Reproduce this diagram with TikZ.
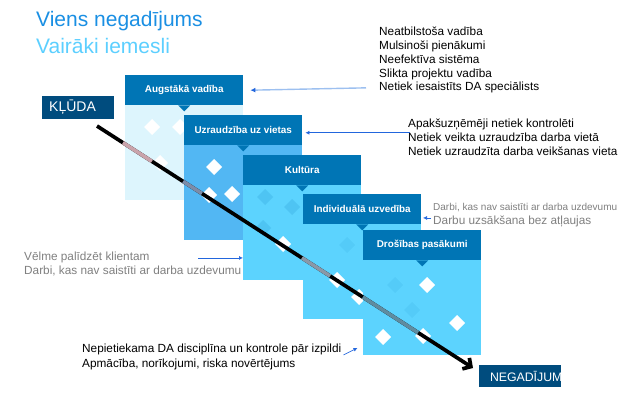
\documentclass[tikz,border=0pt]{standalone}
\usepackage{fontspec}
\setmainfont{Liberation Sans}
\usetikzlibrary{calc,arrows.meta}
\definecolor{headblue}{HTML}{0075B5}
\definecolor{navy}{HTML}{004C7E}
\definecolor{paleblue}{HTML}{DDF5FD}
\definecolor{midblue}{HTML}{52B7F3}
\definecolor{skyblue}{HTML}{5CD3FE}
\definecolor{titleblue}{HTML}{1A8FE3}
\definecolor{titlecyan}{HTML}{5CCFFF}
\definecolor{arrowblue}{HTML}{2266DD}
\definecolor{lightline}{HTML}{9DC0F0}
\definecolor{greytext}{HTML}{7F7F7F}
\definecolor{segA}{HTML}{C9A3AB}
\definecolor{segB}{HTML}{7D8CA8}
\definecolor{segC}{HTML}{8A98A8}
\definecolor{segD}{HTML}{5F8CA0}

% one card: name, x, y, body colour, title
\newcommand{\causecard}[5]{
  \fill[#4] (#2,#3) rectangle ++(118,125);
  \node[cardhead] (#1) at (#2,#3) {#5};
  \fill[headblue] ($(#1.south)+(-6,0)$) -- ++(12,0) -- ++(-6,6) -- cycle;
}

\begin{document}
\begin{tikzpicture}[x=1pt,y=-1pt,
  cardhead/.style={fill=headblue, text=white, font=\bfseries\fontsize{9.9}{12}\selectfont,
    minimum width=118pt, minimum height=30pt, inner sep=0pt, anchor=north west},
  navybox/.style={fill=navy, text=white, inner sep=0pt},
  listtext/.style={anchor=base west, inner sep=0pt, font=\fontsize{11.8}{14}\selectfont},
  pointer/.style={arrowblue, line width=0.7pt, -{Latex[length=4pt,width=4pt]}},
  pointerlight/.style={lightline, line width=1.4pt, -{Latex[length=5pt,width=5pt,color=arrowblue]}}]
\useasboundingbox (0,0) rectangle (636,396);

% title
\node[anchor=base west, inner sep=0pt, text=titleblue, font=\fontsize{21}{24}\selectfont] (title) at (36,27) {Viens negadījums};
\node[anchor=base west, inner sep=0pt, text=titlecyan, font=\fontsize{21}{24}\selectfont] (subtitle) at (36,53) {Vairāki iemesli};

% cards
\causecard{c1}{125}{75}{paleblue}{Augstākā vadība}
\foreach \x/\y in {152/127,180/127,160/163}
  \fill[white] (\x,\y) +(-8,0) -- +(0,-8) -- +(8,0) -- +(0,8) -- cycle;
\causecard{c2}{184}{115}{midblue}{Uzraudzība uz vietas}
\foreach \x/\y in {214/167,209/195,232/194}
  \fill[white] (\x,\y) +(-8,0) -- +(0,-8) -- +(8,0) -- +(0,8) -- cycle;
\causecard{c3}{243}{155}{skyblue}{Kultūra}
\foreach \x/\y in {265/197,292/207,263/228}
  \fill[headblue, opacity=0.15] (\x,\y) +(-8,0) -- +(0,-8) -- +(8,0) -- +(0,8) -- cycle;
\fill[white] (283,244) +(-8,0) -- +(0,-8) -- +(8,0) -- +(0,8) -- cycle;
\causecard{c4}{303}{194}{skyblue}{Individuālā uzvedība}
\fill[headblue, opacity=0.08] (347,245) +(-8,0) -- +(0,-8) -- +(8,0) -- +(0,8) -- cycle;
\foreach \x/\y in {337/280,359/297}
  \fill[white] (\x,\y) +(-8,0) -- +(0,-8) -- +(8,0) -- +(0,8) -- cycle;
\causecard{c5}{363}{230}{skyblue}{Drošības pasākumi}
\foreach \x/\y in {395/285,412/310}
  \fill[headblue, opacity=0.08] (\x,\y) +(-8,0) -- +(0,-8) -- +(8,0) -- +(0,8) -- cycle;
\foreach \x/\y in {427/285,457/323,383/337,423/336}
  \fill[white] (\x,\y) +(-8,0) -- +(0,-8) -- +(8,0) -- +(0,8) -- cycle;

% error and outcome
\node[navybox, anchor=west, minimum height=23pt, text width=58pt, inner xsep=7pt, align=left,
  font=\fontsize{14}{16}\selectfont] (error) at (42,107.5) {KĻŪDA};
\node[navybox, minimum width=82pt, minimum height=22pt] (outcome) at (520,376) {};
\begin{scope}
  \clip (outcome.south west) rectangle (outcome.north east);
  \node[anchor=west, inner sep=0pt, text=white, font=\fontsize{12.3}{14}\selectfont] (outcometext) at ($(outcome.west)+(11,0)$) {NEGADĪJUMS};
\end{scope}

% path of the error
\coordinate (errstart) at (97,126);
\coordinate (errend) at (473,368);
\draw[line width=3.7pt, -{Straight Barb[length=6pt,width=13pt]}] (errstart) -- (errend);
\foreach \a/\b/\c in {0.069/0.146/segA,0.229/0.279/segB,0.545/0.620/segC,0.707/0.854/segD}
  \draw[\c, line width=3.7pt] ($(errstart)!\a!(errend)$) -- ($(errstart)!\b!(errend)$);

% causes
\foreach \t [count=\i] in {Neatbilstoša vadība, Mulsinoši pienākumi, Neefektīva sistēma, Slikta projektu vadība, Netiek iesaistīts DA speciālists}
  \node[listtext] (mgmt\i) at (379,{35.7+13.8*(\i-1)}) {\t};
\draw[pointerlight] ($(mgmt5.west)+(-13,0)$) -- ($(c1.east)+(7,0)$);

\foreach \t [count=\i] in {Apakšuzņēmēji netiek kontrolēti, Netiek veikta uzraudzība darba vietā, Netiek uzraudzīta darba veikšanas vieta}
  \node[listtext] (site\i) at (408,{127.5+14*(\i-1)}) {\t};
\draw[pointer] ($(site2.north west)+(2,0)$) -- ($(c2.east |- site2.north west)+(3,0)$);

\node[listtext, text=greytext, font=\fontsize{10}{12}\selectfont] (bypass1) at (433,210) {Darbi, kas nav saistīti ar darba uzdevumu};
\node[listtext, text=greytext] (bypass2) at (433,224) {Darbu uzsākšana bez atļaujas};
\draw[pointer] ($(bypass2.west)+(-2,-3)$) -- ++(-8,0);

\foreach \t [count=\i] in {Vēlme palīdzēt klientam, {Darbi, kas nav saistīti ar darba uzdevumu}}
  \node[listtext, text=greytext] (help\i) at (24,{260+14*(\i-1)}) {\t};
\draw[pointer] ($(c3.west |- help1.center)+(-45,1)$) -- ($(c3.west |- help1.center)+(0,1)$);

\foreach \t [count=\i] in {Nepietiekama DA disciplīna un kontrole pār izpildi, {Apmācība, norīkojumi, riska novērtējums}}
  \node[listtext] (disc\i) at (82,{352+15*(\i-1)}) {\t};
\draw[pointer] ($(disc1.east)+(2,6)$) -- ++(14,-7);
\end{tikzpicture}
\end{document}
